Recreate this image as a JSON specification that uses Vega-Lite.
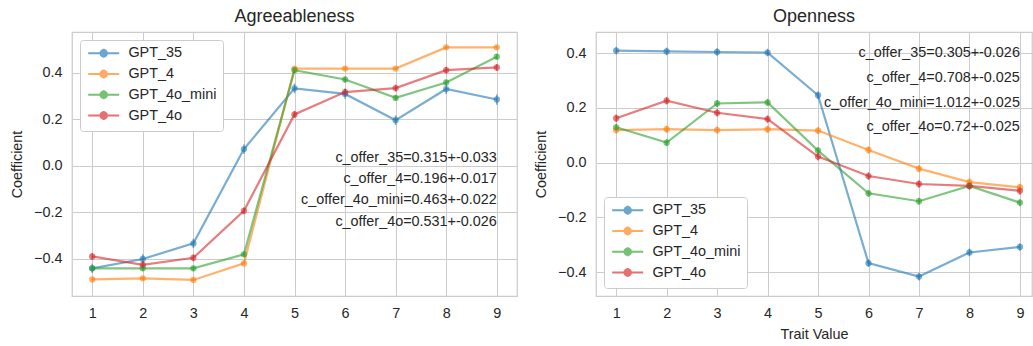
{
  "$schema": "https://vega.github.io/schema/vega-lite/v6.json",
  "padding": {"left": 8, "top": 7, "right": 0, "bottom": 0},
  "spacing": 14,
  "background": "white",
  "config": {
    "font": "Liberation Sans",
    "view": {"stroke": "#cccccc", "strokeWidth": 1.25},
    "axis": {
      "gridColor": "#cccccc", "gridWidth": 1, "domain": false, "ticks": false,
      "labelFontSize": 14.4, "labelColor": "#262626", "titleFontSize": 14.4,
      "titleColor": "#262626", "titleFontWeight": "normal", "labelPadding": 10, "titlePadding": 9
    },
    "title": {"fontSize": 18, "fontWeight": "normal", "color": "#262626", "offset": 6},
    "legend": {
      "fillColor": "white", "strokeColor": "#cccccc", "cornerRadius": 3, "padding": 6,
      "offset": 8, "labelFontSize": 14.4, "labelColor": "#262626", "labelOffset": 28,
      "symbolType": "M-1,0L5.2,0M2.1,-0.9L2.1,0.9M2.75,0A0.65,0.65,0,1,1,1.45,0A0.65,0.65,0,1,1,2.75,0Z",
      "symbolSize": 100, "symbolStrokeWidth": 2, "symbolOpacity": 0.65, "rowPadding": 2.8
    }
  },
  "datasets": {
    "agree": [
      {"model": "GPT_35", "trait": 1, "coef": -0.44, "err": 0.02},
      {"model": "GPT_35", "trait": 2, "coef": -0.40, "err": 0.02},
      {"model": "GPT_35", "trait": 3, "coef": -0.333, "err": 0.02},
      {"model": "GPT_35", "trait": 4, "coef": 0.072, "err": 0.021},
      {"model": "GPT_35", "trait": 5, "coef": 0.333, "err": 0.021},
      {"model": "GPT_35", "trait": 6, "coef": 0.309, "err": 0.021},
      {"model": "GPT_35", "trait": 7, "coef": 0.196, "err": 0.021},
      {"model": "GPT_35", "trait": 8, "coef": 0.330, "err": 0.021},
      {"model": "GPT_35", "trait": 9, "coef": 0.285, "err": 0.022},
      {"model": "GPT_4", "trait": 1, "coef": -0.488, "err": 0.006},
      {"model": "GPT_4", "trait": 2, "coef": -0.483, "err": 0.006},
      {"model": "GPT_4", "trait": 3, "coef": -0.49, "err": 0.006},
      {"model": "GPT_4", "trait": 4, "coef": -0.419, "err": 0.006},
      {"model": "GPT_4", "trait": 5, "coef": 0.418, "err": 0.006},
      {"model": "GPT_4", "trait": 6, "coef": 0.418, "err": 0.006},
      {"model": "GPT_4", "trait": 7, "coef": 0.418, "err": 0.006},
      {"model": "GPT_4", "trait": 8, "coef": 0.509, "err": 0.006},
      {"model": "GPT_4", "trait": 9, "coef": 0.509, "err": 0.006},
      {"model": "GPT_4o_mini", "trait": 1, "coef": -0.44, "err": 0.012},
      {"model": "GPT_4o_mini", "trait": 2, "coef": -0.44, "err": 0.012},
      {"model": "GPT_4o_mini", "trait": 3, "coef": -0.44, "err": 0.012},
      {"model": "GPT_4o_mini", "trait": 4, "coef": -0.38, "err": 0.012},
      {"model": "GPT_4o_mini", "trait": 5, "coef": 0.411, "err": 0.012},
      {"model": "GPT_4o_mini", "trait": 6, "coef": 0.371, "err": 0.012},
      {"model": "GPT_4o_mini", "trait": 7, "coef": 0.292, "err": 0.012},
      {"model": "GPT_4o_mini", "trait": 8, "coef": 0.358, "err": 0.012},
      {"model": "GPT_4o_mini", "trait": 9, "coef": 0.469, "err": 0.012},
      {"model": "GPT_4o", "trait": 1, "coef": -0.389, "err": 0.015},
      {"model": "GPT_4o", "trait": 2, "coef": -0.425, "err": 0.015},
      {"model": "GPT_4o", "trait": 3, "coef": -0.395, "err": 0.015},
      {"model": "GPT_4o", "trait": 4, "coef": -0.193, "err": 0.015},
      {"model": "GPT_4o", "trait": 5, "coef": 0.221, "err": 0.015},
      {"model": "GPT_4o", "trait": 6, "coef": 0.317, "err": 0.015},
      {"model": "GPT_4o", "trait": 7, "coef": 0.334, "err": 0.015},
      {"model": "GPT_4o", "trait": 8, "coef": 0.411, "err": 0.015},
      {"model": "GPT_4o", "trait": 9, "coef": 0.423, "err": 0.015}
    ],
    "open": [
      {"model": "GPT_35", "trait": 1, "coef": 0.409, "err": 0.014},
      {"model": "GPT_35", "trait": 2, "coef": 0.406, "err": 0.014},
      {"model": "GPT_35", "trait": 3, "coef": 0.404, "err": 0.014},
      {"model": "GPT_35", "trait": 4, "coef": 0.402, "err": 0.014},
      {"model": "GPT_35", "trait": 5, "coef": 0.246, "err": 0.014},
      {"model": "GPT_35", "trait": 6, "coef": -0.367, "err": 0.014},
      {"model": "GPT_35", "trait": 7, "coef": -0.416, "err": 0.014},
      {"model": "GPT_35", "trait": 8, "coef": -0.328, "err": 0.014},
      {"model": "GPT_35", "trait": 9, "coef": -0.308, "err": 0.014},
      {"model": "GPT_4", "trait": 1, "coef": 0.119, "err": 0.013},
      {"model": "GPT_4", "trait": 2, "coef": 0.122, "err": 0.013},
      {"model": "GPT_4", "trait": 3, "coef": 0.119, "err": 0.013},
      {"model": "GPT_4", "trait": 4, "coef": 0.122, "err": 0.013},
      {"model": "GPT_4", "trait": 5, "coef": 0.117, "err": 0.013},
      {"model": "GPT_4", "trait": 6, "coef": 0.046, "err": 0.013},
      {"model": "GPT_4", "trait": 7, "coef": -0.022, "err": 0.013},
      {"model": "GPT_4", "trait": 8, "coef": -0.071, "err": 0.013},
      {"model": "GPT_4", "trait": 9, "coef": -0.09, "err": 0.013},
      {"model": "GPT_4o_mini", "trait": 1, "coef": 0.129, "err": 0.013},
      {"model": "GPT_4o_mini", "trait": 2, "coef": 0.073, "err": 0.013},
      {"model": "GPT_4o_mini", "trait": 3, "coef": 0.216, "err": 0.013},
      {"model": "GPT_4o_mini", "trait": 4, "coef": 0.220, "err": 0.013},
      {"model": "GPT_4o_mini", "trait": 5, "coef": 0.044, "err": 0.013},
      {"model": "GPT_4o_mini", "trait": 6, "coef": -0.112, "err": 0.013},
      {"model": "GPT_4o_mini", "trait": 7, "coef": -0.141, "err": 0.013},
      {"model": "GPT_4o_mini", "trait": 8, "coef": -0.085, "err": 0.013},
      {"model": "GPT_4o_mini", "trait": 9, "coef": -0.146, "err": 0.013},
      {"model": "GPT_4o", "trait": 1, "coef": 0.162, "err": 0.014},
      {"model": "GPT_4o", "trait": 2, "coef": 0.226, "err": 0.014},
      {"model": "GPT_4o", "trait": 3, "coef": 0.182, "err": 0.014},
      {"model": "GPT_4o", "trait": 4, "coef": 0.159, "err": 0.014},
      {"model": "GPT_4o", "trait": 5, "coef": 0.022, "err": 0.014},
      {"model": "GPT_4o", "trait": 6, "coef": -0.049, "err": 0.014},
      {"model": "GPT_4o", "trait": 7, "coef": -0.078, "err": 0.014},
      {"model": "GPT_4o", "trait": 8, "coef": -0.085, "err": 0.014},
      {"model": "GPT_4o", "trait": 9, "coef": -0.103, "err": 0.014}
    ],
    "agreeNotes": [
      {"trait": 9, "coef": 0.032, "label": "c_offer_35=0.315+-0.033"},
      {"trait": 9, "coef": -0.058, "label": "c_offer_4=0.196+-0.017"},
      {"trait": 9, "coef": -0.148, "label": "c_offer_4o_mini=0.463+-0.022"},
      {"trait": 9, "coef": -0.239, "label": "c_offer_4o=0.531+-0.026"}
    ],
    "openNotes": [
      {"trait": 9, "coef": 0.399, "label": "c_offer_35=0.305+-0.026"},
      {"trait": 9, "coef": 0.309, "label": "c_offer_4=0.708+-0.025"},
      {"trait": 9, "coef": 0.219, "label": "c_offer_4o_mini=1.012+-0.025"},
      {"trait": 9, "coef": 0.129, "label": "c_offer_4o=0.72+-0.025"}
    ]
  },
  "resolve": {"scale": {"color": "independent"}, "legend": {"color": "independent"}},
  "hconcat": [
    {
      "title": "Agreeableness",
      "width": 445,
      "height": 264,
      "encoding": {
        "x": {"field": "trait", "type": "quantitative",
          "scale": {"domain": [0.6, 9.4], "nice": false, "zero": false},
          "axis": {"values": [1, 2, 3, 4, 5, 6, 7, 8, 9], "title": null, "format": "d"}},
        "y": {"field": "coef", "type": "quantitative",
          "scale": {"domain": [-0.559, 0.575], "nice": false, "zero": false},
          "axis": {"values": [-0.4, -0.2, 0, 0.2, 0.4], "format": ".1f"}, "title": "Coefficient"}
      },
      "layer": [
        {
          "data": {"name": "agree"},
          "mark": {"type": "errorbar", "thickness": 1.5, "opacity": 0.6},
          "encoding": {
            "yError": {"field": "err"},
            "color": {"field": "model", "type": "nominal",
              "scale": {"domain": ["GPT_35", "GPT_4", "GPT_4o_mini", "GPT_4o"], "range": ["#1f77b4", "#ff7f0e", "#2ca02c", "#d62728"]},
              "legend": {"title": null, "orient": "top-left"}}
          }
        },
        {
          "data": {"name": "agree"},
          "mark": {"type": "line", "strokeWidth": 2.2, "opacity": 0.6, "point": {"filled": true, "size": 40, "opacity": 0.6}},
          "encoding": {
            "color": {"field": "model", "type": "nominal",
              "scale": {"domain": ["GPT_35", "GPT_4", "GPT_4o_mini", "GPT_4o"], "range": ["#1f77b4", "#ff7f0e", "#2ca02c", "#d62728"]},
              "legend": {"title": null, "orient": "top-left"}}
          }
        },
        {
          "data": {"name": "agreeNotes"},
          "mark": {"type": "text", "align": "right", "baseline": "middle", "fontSize": 14.4, "color": "#262626"},
          "encoding": {
            "text": {"field": "label"}
          }
        }
      ]
    },
    {
      "title": "Openness",
      "width": 436,
      "height": 264,
      "encoding": {
        "x": {"field": "trait", "type": "quantitative",
          "scale": {"domain": [0.6, 9.24], "nice": false, "zero": false},
          "axis": {"values": [1, 2, 3, 4, 5, 6, 7, 8, 9], "format": "d", "titlePadding": 8}, "title": "Trait Value"},
        "y": {"field": "coef", "type": "quantitative",
          "scale": {"domain": [-0.487, 0.477], "nice": false, "zero": false},
          "axis": {"values": [-0.4, -0.2, 0, 0.2, 0.4], "format": ".1f"}, "title": "Coefficient"}
      },
      "layer": [
        {
          "data": {"name": "open"},
          "mark": {"type": "errorbar", "thickness": 1.5, "opacity": 0.6},
          "encoding": {
            "yError": {"field": "err"},
            "color": {"field": "model", "type": "nominal",
              "scale": {"domain": ["GPT_35", "GPT_4", "GPT_4o_mini", "GPT_4o"], "range": ["#1f77b4", "#ff7f0e", "#2ca02c", "#d62728"]},
              "legend": {"title": null, "orient": "bottom-left"}}
          }
        },
        {
          "data": {"name": "open"},
          "mark": {"type": "line", "strokeWidth": 2.2, "opacity": 0.6, "point": {"filled": true, "size": 40, "opacity": 0.6}},
          "encoding": {
            "color": {"field": "model", "type": "nominal",
              "scale": {"domain": ["GPT_35", "GPT_4", "GPT_4o_mini", "GPT_4o"], "range": ["#1f77b4", "#ff7f0e", "#2ca02c", "#d62728"]},
              "legend": {"title": null, "orient": "bottom-left"}}
          }
        },
        {
          "data": {"name": "openNotes"},
          "mark": {"type": "text", "align": "right", "baseline": "middle", "fontSize": 14.4, "color": "#262626"},
          "encoding": {
            "text": {"field": "label"}
          }
        }
      ]
    }
  ]
}
